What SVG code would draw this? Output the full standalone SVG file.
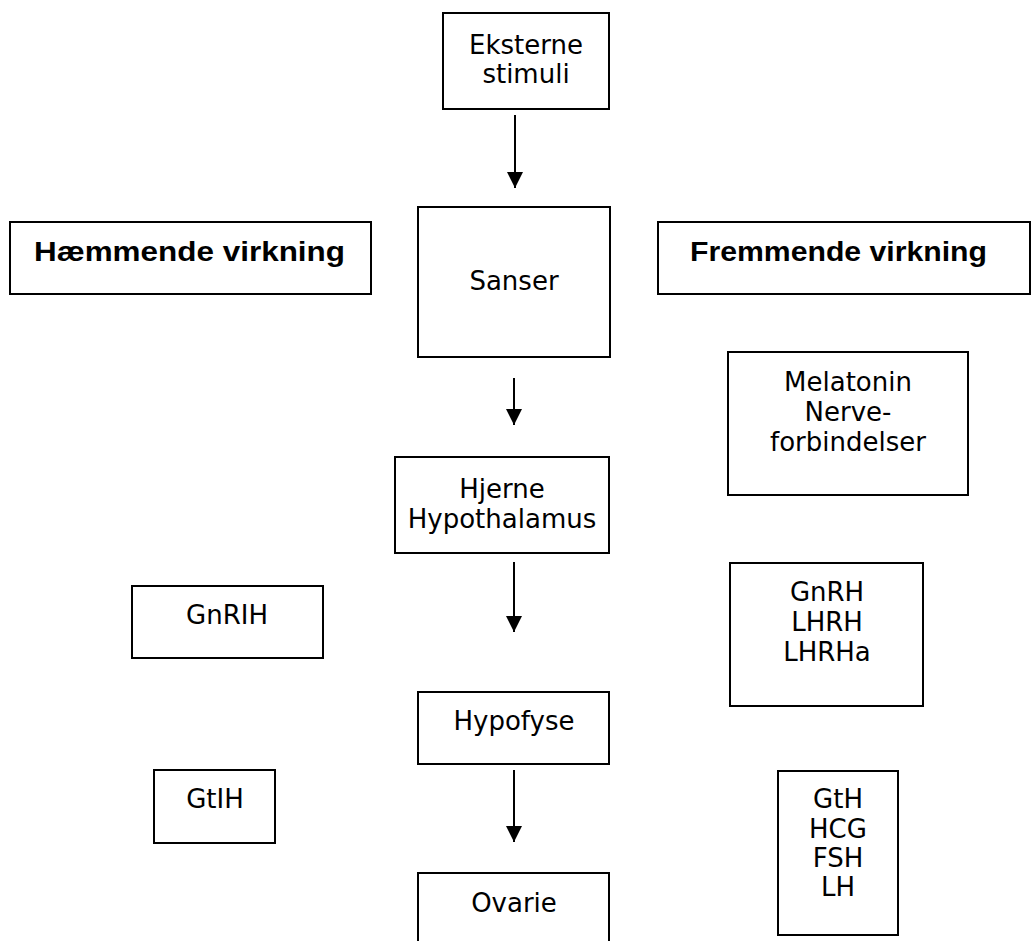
<svg xmlns="http://www.w3.org/2000/svg" width="1033" height="941" viewBox="0 0 1033 941">
  <style>
    .box { fill: #fff; stroke: #000; stroke-width: 2; }
    .t { font-family: "DejaVu Sans", Verdana, sans-serif; font-size: 26px; fill: #000; text-anchor: middle; }
    .b { font-family: "Liberation Sans", Arial, sans-serif; font-weight: bold; font-size: 27px; fill: #000; }
    .edge { stroke: #000; stroke-width: 2; fill: none; marker-end: url(#arr); }
  </style>
  <defs>
    <marker id="arr" markerWidth="16" markerHeight="16" refX="16" refY="8" orient="auto" markerUnits="userSpaceOnUse">
      <path d="M0,0 L16,8 L0,16 Z" fill="#000"/>
    </marker>
  </defs>
  <rect width="1033" height="941" fill="#fff"/>

  <g id="connectors">
    <line class="edge" x1="515" y1="115" x2="515" y2="188"/>
    <line class="edge" x1="514" y1="378" x2="514" y2="425"/>
    <line class="edge" x1="514" y1="562" x2="514" y2="632"/>
    <line class="edge" x1="514" y1="770" x2="514" y2="842"/>
  </g>

  <g id="eksterne">
    <rect class="box" x="443" y="13" width="166" height="96"/>
    <text class="t" x="526" y="54">Eksterne</text>
    <text class="t" x="526" y="83">stimuli</text>
  </g>

  <g id="haemmende">
    <rect class="box" x="10" y="222" width="361" height="72"/>
    <text class="b" x="34" y="261" textLength="311" lengthAdjust="spacingAndGlyphs">Hæmmende virkning</text>
  </g>

  <g id="fremmende">
    <rect class="box" x="658" y="222" width="372" height="72"/>
    <text class="b" x="690" y="261" textLength="297" lengthAdjust="spacingAndGlyphs">Fremmende virkning</text>
  </g>

  <g id="sanser">
    <rect class="box" x="418" y="207" width="192" height="150"/>
    <text class="t" x="514" y="290">Sanser</text>
  </g>

  <g id="melatonin">
    <rect class="box" x="728" y="352" width="240" height="143"/>
    <text class="t" x="848" y="391">Melatonin</text>
    <text class="t" x="848" y="421">Nerve-</text>
    <text class="t" x="848" y="451">forbindelser</text>
  </g>

  <g id="hjerne">
    <rect class="box" x="395" y="457" width="214" height="96"/>
    <text class="t" x="502" y="498">Hjerne</text>
    <text class="t" x="502" y="528">Hypothalamus</text>
  </g>

  <g id="gnrih">
    <rect class="box" x="132" y="586" width="191" height="72"/>
    <text class="t" x="227" y="624">GnRIH</text>
  </g>

  <g id="gnrh">
    <rect class="box" x="730" y="563" width="193" height="143"/>
    <text class="t" x="827" y="601">GnRH</text>
    <text class="t" x="827" y="631">LHRH</text>
    <text class="t" x="827" y="661">LHRHa</text>
  </g>

  <g id="hypofyse">
    <rect class="box" x="418" y="692" width="191" height="72"/>
    <text class="t" x="514" y="730">Hypofyse</text>
  </g>

  <g id="gtih">
    <rect class="box" x="154" y="770" width="121" height="73"/>
    <text class="t" x="215" y="808">GtIH</text>
  </g>

  <g id="gth">
    <rect class="box" x="778" y="771" width="120" height="164"/>
    <text class="t" x="838" y="808">GtH</text>
    <text class="t" x="838" y="838">HCG</text>
    <text class="t" x="838" y="867">FSH</text>
    <text class="t" x="838" y="896">LH</text>
  </g>

  <g id="ovarie">
    <rect class="box" x="418" y="873" width="191" height="90"/>
    <text class="t" x="514" y="912">Ovarie</text>
  </g>
</svg>
